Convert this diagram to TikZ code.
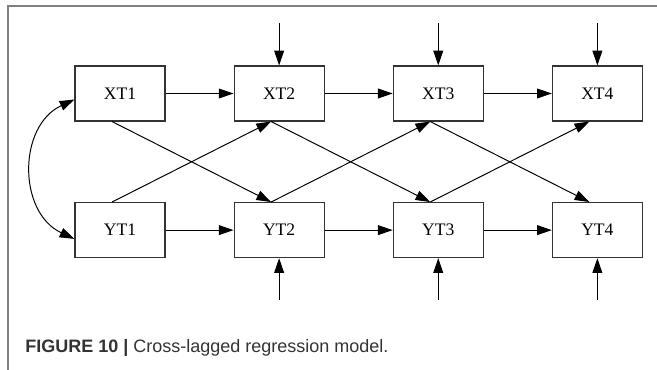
\documentclass[tikz,border=0pt]{standalone}
\usepackage{fontspec}
\setmainfont{Liberation Serif}
\newfontfamily\capfont{Liberation Sans}
\usetikzlibrary{positioning,arrows.meta}

\begin{document}
\begin{tikzpicture}[
		>={Triangle[length=10.5pt,width=7pt]},
		varbox/.style={draw=black!80, line width=0.8pt, minimum width=2.25cm, minimum height=1.375cm, inner sep=0pt, font=\fontsize{12.5}{14}\selectfont},
		link/.style={->, line width=0.7pt}
	]
		\useasboundingbox (0,0) rectangle (16.425,9.25);
		\draw[gray, line width=0.9pt] (0.2,0) -- (0.2,9.1) -- (16.425,9.1);
		
		\node[varbox] (XT1) at (3.0,6.9125) {XT1};
		\node[varbox, right=1.7cm of XT1] (XT2) {XT2};
		\node[varbox, right=1.7cm of XT2] (XT3) {XT3};
		\node[varbox, right=1.7cm of XT3] (XT4) {XT4};
		\node[varbox, below=2.0125cm of XT1] (YT1) {YT1};
		\node[varbox, right=1.7cm of YT1] (YT2) {YT2};
		\node[varbox, right=1.7cm of YT2] (YT3) {YT3};
		\node[varbox, right=1.7cm of YT3] (YT4) {YT4};
		
		\foreach \a/\b in {1/2,2/3,3/4}{
			\draw[link] (XT\a) -- (XT\b);
			\draw[link] (YT\a) -- (YT\b);
			\draw[link] ([xshift=-0.2cm]XT\a.south) -- ([xshift=-0.2cm]YT\b.north);
			\draw[link] ([xshift=-0.2cm]YT\a.north) -- ([xshift=-0.2cm]XT\b.south);
			\coordinate (ex\b) at ([yshift=1.05cm]XT\b.north);
			\coordinate (ey\b) at ([yshift=-1.05cm]YT\b.south);
			\draw[link] (ex\b) -- (XT\b);
			\draw[link] (ey\b) -- (YT\b);
		}
		\draw[<->, line width=0.7pt] ([yshift=-0.15cm]XT1.west) to[bend right=65, looseness=1.15] ([yshift=-0.22cm]YT1.west);
		
		\node[anchor=base west, inner sep=0pt, text=black!80, font=\capfont\fontsize{12.8}{15}\selectfont] (cap) at (0.625,0.43) {\textbf{FIGURE 10 |} Cross-lagged regression model.};
	\end{tikzpicture}
\end{document}
